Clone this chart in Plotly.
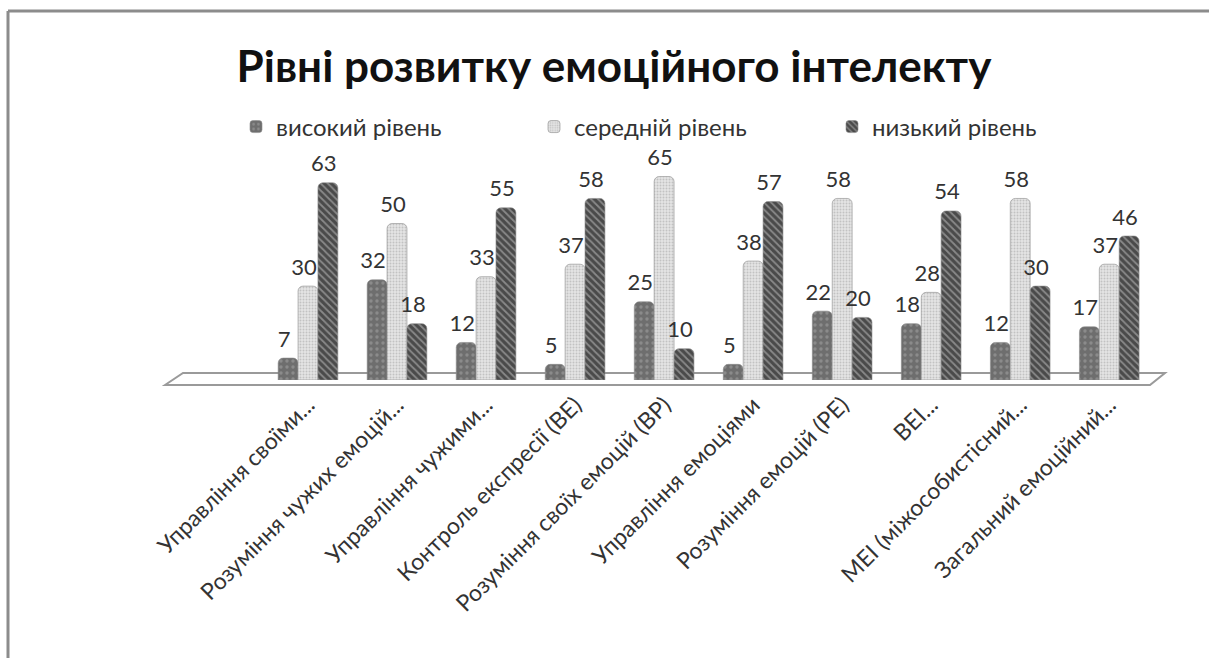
import plotly.graph_objects as go

# Scales and categories
categories = [
    "Управління своїми...",
    "Розуміння чужих емоцій...",
    "Управління чужими...",
    "Контроль експресії (ВЕ)",
    "Розуміння своїх емоцій (ВР)",
    "Управління емоціями",
    "Розуміння емоцій (РЕ)",
    "ВЕІ...",
    "МЕІ (міжособистісний...",
    "Загальний емоційний...",
]
high_level = [7, 32, 12, 5, 25, 5, 22, 18, 12, 17]
medium_level = [30, 50, 33, 37, 65, 38, 58, 28, 58, 37]
low_level = [63, 18, 55, 58, 10, 57, 20, 54, 30, 46]
series_names = ["високий рівень", "середній рівень", "низький рівень"]

W, H = 1209, 658
L, R, T, B = 170, 1160, 160, 380  # plot area in pixels
X_MIN, X_MAX = -1.55, 9.57
PX_PER_CAT = (R - L) / (X_MAX - X_MIN)
PX_PER_UNIT = 3.13
BAR_GAP = 0.33


def px(x):
    return (x - L) / (R - L)


def py(y):
    return (B - y) / (B - T)


FONT = "Lato"
LABEL_COLOR = "#333333"

styles = [
    dict(color="#6e6e6e", pattern=dict(shape=".", fgcolor="#a8a8a8", size=6, solidity=0.25)),
    dict(color="#e4e4e4", pattern=dict(shape=".", fgcolor="#a0a0a0", size=3, solidity=0.35)),
    dict(color="#4a4a4a", pattern=dict(shape="\\", fgcolor="#c8c8c8", size=5, solidity=0.35)),
]

xs = list(range(len(categories)))
all_series = [high_level, medium_level, low_level]
bar_w = (1 - BAR_GAP) / len(all_series)

fig = go.Figure()
for name, vals, st in zip(series_names, all_series, styles):
    fig.add_trace(go.Bar(
        x=xs, y=vals, name=name,
        marker=dict(color=st["color"], pattern=st["pattern"],
                    line=dict(color="#8a8a8a", width=0.6), cornerradius=5),
    ))

# Value labels sit a little above and left of each bar top
label_lift = 6 / PX_PER_UNIT
label_shift = -4 / PX_PER_CAT
for i, vals in enumerate(all_series):
    offset = (i - (len(all_series) - 1) / 2) * bar_w
    fig.add_trace(go.Scatter(
        x=[x + offset + label_shift for x in xs],
        y=[v + label_lift for v in vals],
        mode="text", text=[str(v) for v in vals], textposition="top center",
        textfont=dict(family=FONT, size=22, color=LABEL_COLOR),
        showlegend=False, hoverinfo="skip", cliponaxis=False,
    ))

shapes = []
# Floor of the chart
floor = [(165, 385), (183, 373), (1165, 373), (1150, 385)]
path = "M " + " L ".join(f"{px(a):.5f},{py(b):.5f}" for a, b in floor) + " Z"
shapes.append(dict(type="path", xref="paper", yref="paper", path=path,
                   line=dict(color="#9a9a9a", width=2), fillcolor="white", layer="below"))
# Outer frame (top and left edges)
shapes.append(dict(type="line", xref="paper", yref="paper",
                   x0=px(8), y0=py(11), x1=px(W), y1=py(11),
                   line=dict(color="#8c8c8c", width=3)))
shapes.append(dict(type="line", xref="paper", yref="paper",
                   x0=px(8), y0=py(11), x1=px(8), y1=py(H),
                   line=dict(color="#8c8c8c", width=3)))

fig.update_layout(
    width=W, height=H,
    margin=dict(l=L, r=W - R, t=T, b=H - B, pad=0),
    paper_bgcolor="white", plot_bgcolor="white",
    barmode="group", bargap=BAR_GAP, bargroupgap=0.0,
    title=dict(text="<b>Рівні розвитку емоційного інтелекту</b>",
               x=614 / W, xanchor="center", y=1 - 67 / H, yanchor="middle",
               font=dict(family=FONT, size=44, color="#111111")),
    legend=dict(orientation="h", x=px(236), xanchor="left", y=py(127), yanchor="middle",
                font=dict(family=FONT, size=24, color=LABEL_COLOR),
                entrywidth=253, entrywidthmode="pixels", itemwidth=30,
                bgcolor="rgba(0,0,0,0)"),
    shapes=shapes,
    showlegend=True,
)
fig.update_xaxes(range=[X_MIN, X_MAX], tickmode="array",
                 tickvals=xs, ticktext=categories,
                 tickangle=-45, tickfont=dict(family=FONT, size=23, color=LABEL_COLOR),
                 showgrid=False, zeroline=False, showline=False, ticks="",
                 ticklabelstandoff=6)
fig.update_yaxes(range=[0, (B - T) / PX_PER_UNIT], visible=False, showgrid=False)

fig.write_html("out.html")
